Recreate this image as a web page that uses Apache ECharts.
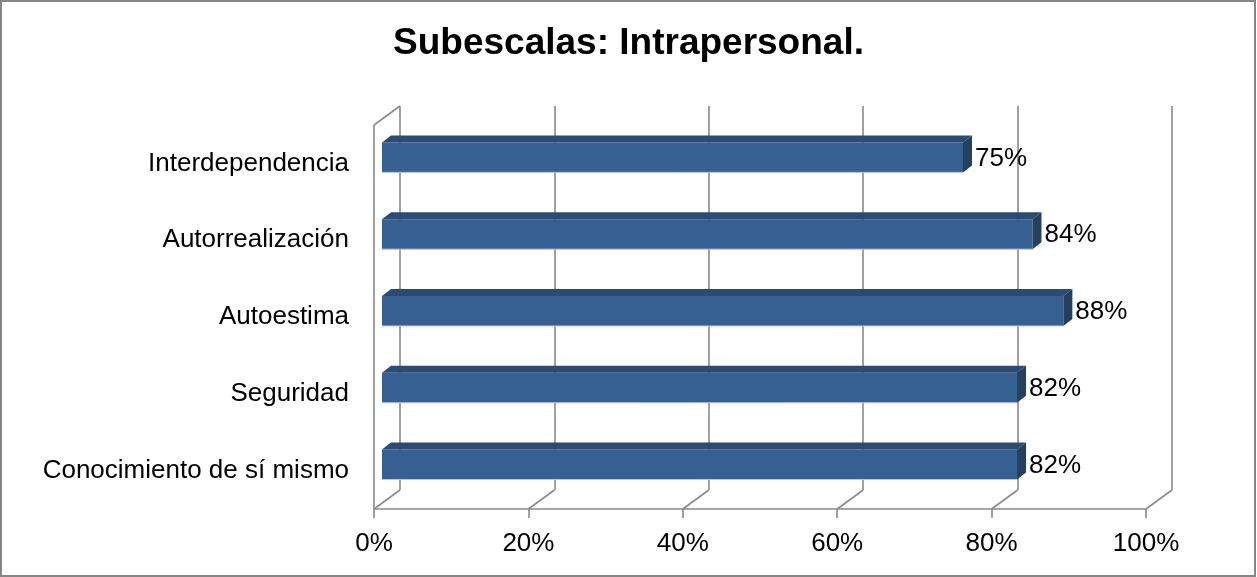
<!DOCTYPE html>
<html>
<head>
<meta charset="utf-8">
<style>
  html, body { margin: 0; padding: 0; background: #fff; }
  #chart { width: 1257px; height: 577px; }
</style>
<script src="https://cdn.jsdelivr.net/npm/echarts@6/dist/echarts.min.js"></script>
</head>
<body>
<div id="chart"></div>
<script>
// data, bottom category first (ECharts draws category y axis from the bottom)
const categories = ['Conocimiento de sí mismo', 'Seguridad', 'Autoestima', 'Autorrealización', 'Interdependencia']
const values = [82, 82, 88, 84, 75]
const ticks = [0, 20, 40, 60, 80, 100]

const FONT = "'Liberation Sans', Arial, sans-serif"
const GRID_COLOR = '#8a8a8a'
const DEPTH = [26, -19]      // wall depth
const BAR_SHIFT = [8, -6]    // bar front face sits a bit inside the box
const BAR_DEPTH = [9, -7]

const chart = echarts.init(document.getElementById('chart'))

function renderBar(params, api) {
  const i = api.value(1)
  const v = api.value(0)
  const p0 = api.coord([0, i])
  const p1 = api.coord([v, i])
  const h = api.size([0, 1])[1] * 0.39
  const x0 = p0[0] + BAR_SHIFT[0]
  const x1 = p1[0] + BAR_SHIFT[0] + 2
  const yc = p0[1] + BAR_SHIFT[1]
  const top = yc - h / 2
  const bot = yc + h / 2
  const dx = BAR_DEPTH[0], dy = BAR_DEPTH[1]
  return {
    type: 'group',
    children: [
      { type: 'rect', shape: { x: x0, y: top, width: x1 - x0, height: h },
        style: { fill: '#376092' } },
      { type: 'line', shape: { x1: x0, y1: bot, x2: x1, y2: bot },
        style: { stroke: '#b9c9e0', lineWidth: 1 } },
      { type: 'polygon', shape: { points: [[x0, top], [x0 + dx, top + dy], [x1 + dx, top + dy], [x1, top]] },
        style: { fill: '#2b4b73' } },
      { type: 'polygon', shape: { points: [[x1, top], [x1 + dx, top + dy], [x1 + dx, bot + dy], [x1, bot]] },
        style: { fill: '#23405f' } },
      { type: 'text', style: { x: x1 + dx + 3, y: yc + 1, text: v + '%', fill: '#000',
        font: '26px ' + FONT, verticalAlign: 'middle', align: 'left' } }
    ]
  }
}

function renderFloor(params, api) {
  const cs = params.coordSys
  const v = api.value(0)
  const x = api.coord([v, 0])[0]
  const yb = cs.y + cs.height
  const line = (a, b, c, d) => ({ type: 'line', shape: { x1: a, y1: b, x2: c, y2: d },
    style: { stroke: GRID_COLOR, lineWidth: 1.6 } })
  const children = [line(x, yb, x + DEPTH[0], yb + DEPTH[1])]
  if (v === 0) {
    // left wall
    children.push(line(x, cs.y, x, yb))
    children.push(line(x, cs.y, x + DEPTH[0], cs.y + DEPTH[1]))
  }
  return { type: 'group', children }
}

chart.setOption({
  animation: false,
  title: {
    text: 'Subescalas: Intrapersonal.',
    left: 'center',
    top: 20,
    textStyle: { fontFamily: FONT, fontSize: 37, fontWeight: 'bold', color: '#000' }
  },
  graphic: [{
    type: 'rect', shape: { x: 1, y: 1, width: 1254, height: 575 },
    style: { fill: 'none', stroke: '#868686', lineWidth: 2 }, z: 100
  }],
  grid: [
    { left: 374, top: 125, width: 772, height: 384 },
    { left: 374 + DEPTH[0], top: 125 + DEPTH[1], width: 772, height: 384 }
  ],
  xAxis: [{
    gridIndex: 0, type: 'value', min: 0, max: 100, interval: 20,
    axisLine: { show: true, lineStyle: { color: GRID_COLOR, width: 1.6 } },
    axisTick: { show: true, length: 9, lineStyle: { color: GRID_COLOR, width: 1.6 } },
    splitLine: { show: false },
    axisLabel: { formatter: '{value}%', fontFamily: FONT, fontSize: 26, color: '#000', margin: 22 }
  }, {
    gridIndex: 1, type: 'value', min: 0, max: 100, interval: 20,
    axisLine: { show: false }, axisTick: { show: false }, axisLabel: { show: false },
    splitLine: { show: true, lineStyle: { color: GRID_COLOR, width: 1.6 } }
  }],
  yAxis: [{
    gridIndex: 0, type: 'category', data: categories,
    axisLine: { show: false }, axisTick: { show: false },
    axisLabel: { fontFamily: FONT, fontSize: 26, color: '#000', margin: 25 }
  }, {
    gridIndex: 1, type: 'category', data: categories, show: false
  }],
  series: [{
    type: 'custom',
    xAxisIndex: 0, yAxisIndex: 0,
    renderItem: renderFloor,
    data: ticks.map(t => [t, 0]),
    silent: true
  }, {
    type: 'custom',
    xAxisIndex: 0, yAxisIndex: 0,
    renderItem: renderBar,
    data: values.map((v, i) => [v, i]),
    z: 5
  }]
})
</script>
</body>
</html>
